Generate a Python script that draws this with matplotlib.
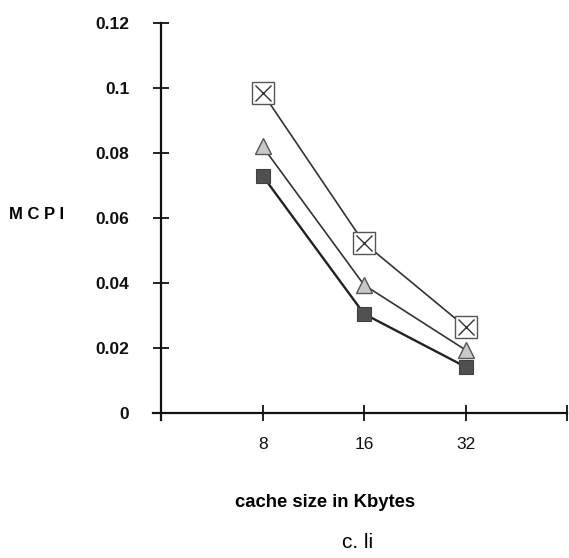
import matplotlib.pyplot as plt

cache_sizes = ["8", "16", "32"]
x_pos = [1, 2, 3]
mcpi_box_x = [0.0985, 0.0523, 0.0265]
mcpi_triangle = [0.082, 0.0394, 0.0194]
mcpi_square = [0.073, 0.0305, 0.0142]
y_ticks = [0, 0.02, 0.04, 0.06, 0.08, 0.1, 0.12]
y_labels = ["0", "0.02", "0.04", "0.06", "0.08", "0.1", "0.12"]

plt.rcParams["font.family"] = ["Liberation Sans", "DejaVu Sans"]

fig = plt.figure(figsize=(5.69, 5.58), dpi=100)
ax = fig.add_axes([0.2689, 0.2482, 0.7276, 0.7106])

# lines
ax.plot(x_pos, mcpi_box_x, color="#333333", linewidth=1.2, zorder=2)
ax.plot(x_pos, mcpi_triangle, color="#333333", linewidth=1.2, zorder=2)
ax.plot(x_pos, mcpi_square, color="#222222", linewidth=1.7, zorder=2)

# markers
ax.plot(x_pos, mcpi_box_x, linestyle="none", marker="s", markersize=15.5,
        markerfacecolor="white", markeredgecolor="#555555", markeredgewidth=1.0, zorder=3)
ax.plot(x_pos, mcpi_box_x, linestyle="none", marker="x", markersize=12,
        markeredgecolor="#333333", markeredgewidth=1.0, zorder=4)
ax.plot(x_pos, mcpi_triangle, linestyle="none", marker="^", markersize=11,
        markerfacecolor="#c8c8c8", markeredgecolor="#555555", markeredgewidth=1.0, zorder=3)
ax.plot(x_pos, mcpi_square, linestyle="none", marker="s", markersize=10.5,
        markerfacecolor="#505050", markeredgecolor="#404040", markeredgewidth=0.8, zorder=3)

ax.set_xlim(-0.08, 4)
ax.set_ylim(-0.002, 0.12)

for side in ["top", "right"]:
    ax.spines[side].set_visible(False)
ax.spines["left"].set_position(("data", 0))
ax.spines["bottom"].set_position(("data", 0))
for side in ["left", "bottom"]:
    ax.spines[side].set_linewidth(1.6)
    ax.spines[side].set_color("#111111")

ax.set_xticks([0, 1, 2, 3, 4])
ax.set_xticklabels([""] + cache_sizes + [""], fontsize=12.5)
ax.set_yticks(y_ticks)
ax.set_yticklabels(y_labels, fontsize=12.5, fontweight="bold")
ax.tick_params(direction="inout", length=12, width=1.3, colors="#111111")
ax.tick_params(axis="x", pad=11)
ax.tick_params(axis="y", pad=17)

fig.text(0.064, 0.616, "M C P I", fontsize=12, fontweight="bold", ha="center", va="center")
fig.text(0.571, 0.099, "cache size in Kbytes", fontsize=13.3, fontweight="bold", ha="center", va="center")
fig.text(0.628, 0.027, "c. li", fontsize=15, ha="center", va="center")

fig.savefig("out.png", dpi=100)
